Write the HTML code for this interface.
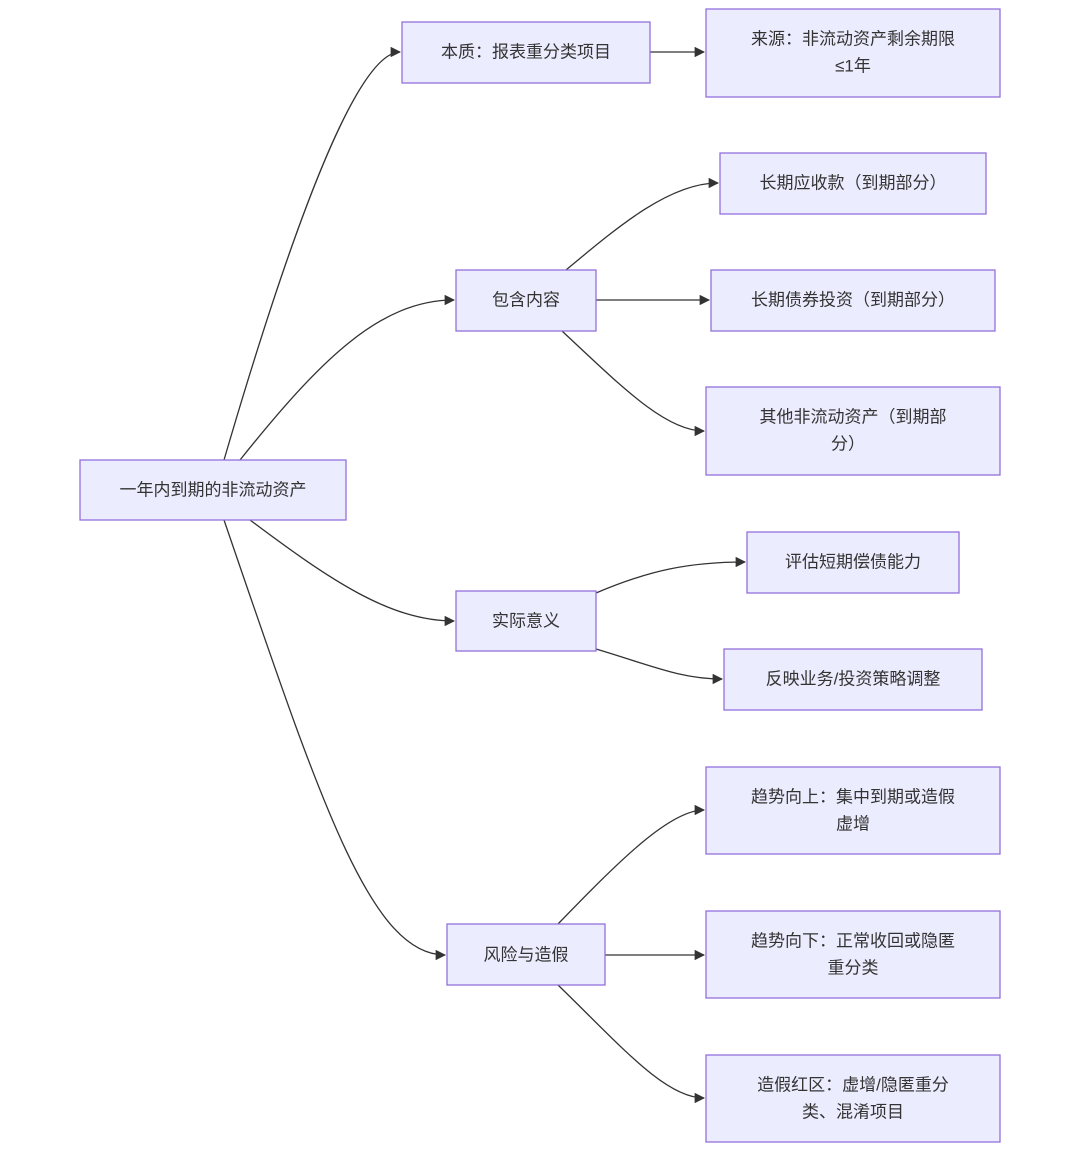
<!DOCTYPE html>
<html><head><meta charset="utf-8"><style>
body{margin:0;background:#fff;}
svg{display:block;}
text{font-family:"Liberation Sans","Noto Sans CJK SC",sans-serif;font-size:17px;fill:#333;text-anchor:middle;dominant-baseline:central;}
rect{fill:#ECECFF;stroke:#9370DB;stroke-width:1.3;}
path.e{fill:none;stroke:#333;stroke-width:1.3;marker-end:url(#a);}
</style></head><body>
<svg width="1080" height="1152" viewBox="0 0 1080 1152">
<defs><marker id="a" viewBox="0 0 10 10" refX="9" refY="5" markerWidth="8" markerHeight="8" orient="auto"><path d="M0,0L10,5L0,10z" fill="#333"/></marker></defs>
<path class="e" d="M224,460 C300,200 360,52 400,52"/>
<path class="e" d="M240,460 C320,360 380,300 454,300"/>
<path class="e" d="M250,520 C330,580 390,621 454,621"/>
<path class="e" d="M224,520 C320,800 370,955 445,955"/>
<path class="e" d="M650,52 L704,52"/>
<path class="e" d="M566,270 C620,225 670,183 718,183"/>
<path class="e" d="M596,300 L709,300"/>
<path class="e" d="M562,331 C620,385 665,431 704,431"/>
<path class="e" d="M596,593 C650,570 690,562 745,562"/>
<path class="e" d="M596,649 C650,665 680,679 722,679"/>
<path class="e" d="M558,924 C620,860 670,810 704,810"/>
<path class="e" d="M605,955 L704,955"/>
<path class="e" d="M558,985 C620,1045 665,1098 704,1098"/>
<rect x="80" y="460" width="266" height="60"/><text x="213" y="490">一年内到期的非流动资产</text>
<rect x="402" y="22" width="248" height="61"/><text x="526" y="52">本质：报表重分类项目</text>
<rect x="706" y="9" width="294" height="88"/><text x="853" y="39">来源：非流动资产剩余期限</text><text x="853" y="66">≤1年</text>
<rect x="456" y="270" width="140" height="61"/><text x="526" y="300">包含内容</text>
<rect x="720" y="153" width="266" height="61"/><text x="853" y="183">长期应收款（到期部分）</text>
<rect x="711" y="270" width="284" height="61"/><text x="853" y="300">长期债券投资（到期部分）</text>
<rect x="706" y="387" width="294" height="88"/><text x="853" y="417">其他非流动资产（到期部</text><text x="848" y="444">分）</text>
<rect x="456" y="591" width="140" height="60"/><text x="526" y="621">实际意义</text>
<rect x="747" y="532" width="212" height="61"/><text x="853" y="562">评估短期偿债能力</text>
<rect x="724" y="649" width="258" height="61"/><text x="853" y="679">反映业务/投资策略调整</text>
<rect x="447" y="924" width="158" height="61"/><text x="526" y="955">风险与造假</text>
<rect x="706" y="767" width="294" height="87"/><text x="853" y="797">趋势向上：集中到期或造假</text><text x="853" y="824">虚增</text>
<rect x="706" y="911" width="294" height="87"/><text x="853" y="941">趋势向下：正常收回或隐匿</text><text x="853" y="968">重分类</text>
<rect x="706" y="1055" width="294" height="87"/><text x="853" y="1085">造假红区：虚增/隐匿重分</text><text x="853" y="1112">类、混淆项目</text>
</svg>
</body></html>
